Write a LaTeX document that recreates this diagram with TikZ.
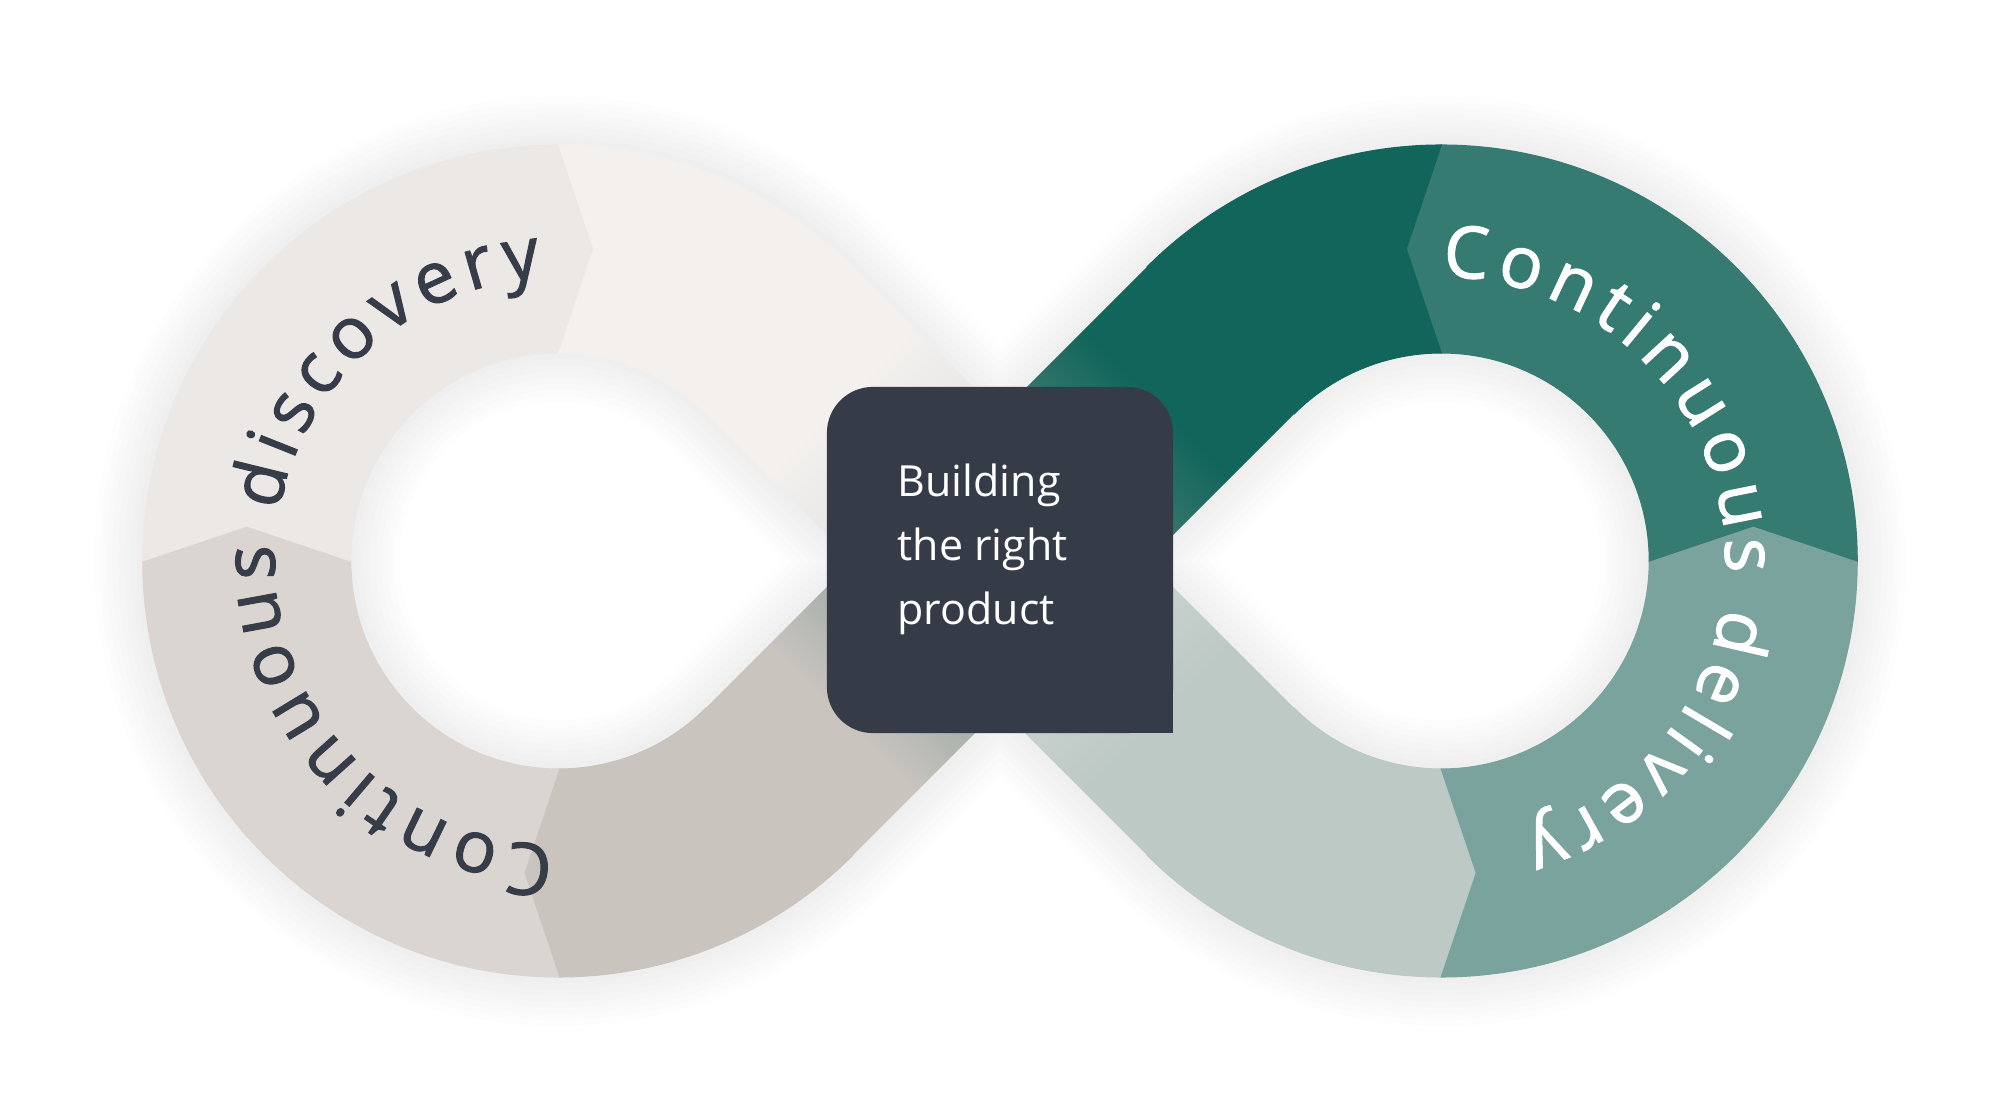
\documentclass[tikz,border=0pt]{standalone}
\usepackage{fontspec}
\setmainfont{Open Sans}
\newfontfamily\ringfam{Open Sans}[FakeBold=1.4]
\usetikzlibrary{calc,positioning,decorations.text}

\definecolor{ltlcol}{HTML}{ECE8E5}
\definecolor{ltrcol}{HTML}{F3F0EE}
\definecolor{lblcol}{HTML}{DAD5D0}
\definecolor{lbrcol}{HTML}{CAC4BF}
\definecolor{rtlcol}{HTML}{11655B}
\definecolor{rtrcol}{HTML}{357B71}
\definecolor{rbrcol}{HTML}{79A39C}
\definecolor{rblcol}{HTML}{BDC9C5}
\definecolor{midone}{HTML}{D9DCDA}
\definecolor{midtwo}{HTML}{6E9088}
\definecolor{boxcol}{HTML}{363C47}
\definecolor{inkcol}{HTML}{373D48}

\pgfdeclarehorizontalshading{bandone}{100bp}{color(0bp)=(ltrcol); color(31bp)=(ltrcol); color(50bp)=(midone); color(69bp)=(rblcol); color(100bp)=(rblcol)}
\pgfdeclarehorizontalshading{bandtwo}{100bp}{color(0bp)=(lbrcol); color(31bp)=(lbrcol); color(50bp)=(midtwo); color(69bp)=(rtlcol); color(100bp)=(rtlcol)}

\newcommand\ringfont{\ringfam\fontsize{20.5}{24}\selectfont}
\newcommand\Ro{416}
\newcommand\Ri{208}
\newcommand\Rtip{314}
\newcommand\Rb{284}

\begin{document}
\begin{tikzpicture}[x=0.01cm, y=0.01cm,
  seg/.style={fill=#1, draw=#1, line width=0.3pt},
  halo/.style={draw=black!70, draw opacity=0.009, line join=round},
  prodbox/.style={fill=boxcol, rounded corners=0.46cm, minimum width=3.46cm,
    minimum height=3.46cm, inner sep=0pt, outer sep=0pt},
  prodtext/.style={text=white, font=\fontsize{12.2}{18.2}\selectfont, align=left,
    inner sep=0pt}]
%
\useasboundingbox (0,0) rectangle (2000,1118);
\fill[white] (0,0) rectangle (2000,1118);
%
\coordinate (X) at (1000,557);
\coordinate (LC) at (558.77,557);
\coordinate (RC) at (1441.23,557);
\coordinate (XT) at (1000,704.08);
\coordinate (XB) at (1000,409.92);
\coordinate (HL) at (852.92,557);
\coordinate (HR) at (1147.08,557);
%
% soft shadow round the loop and in the holes
\begin{scope}[yshift=-0.12cm]
\foreach \k in {1,...,8}
  \draw[halo, line width=\k*3.5pt]
    ($(LC)+(45:\Ro)$) arc[start angle=45, end angle=315, radius=\Ro] -- (XB)
    -- ($(RC)+(225:\Ro)$) arc[start angle=225, end angle=495, radius=\Ro] -- (XT) -- cycle
    ($(LC)+(45:\Ri)$) arc[start angle=45, end angle=315, radius=\Ri] -- (HL) -- cycle
    ($(RC)+(225:\Ri)$) arc[start angle=225, end angle=495, radius=\Ri] -- (HR) -- cycle;
\end{scope}
%
% crossing bands
\shade[shading=bandtwo, shading angle=45]
  ($(LC)+(315:\Ro)+(225:4)$) -- ($(RC)+(135:\Ri)+(45:4)$)
  -- ($(RC)+(135:\Ro)+(45:4)$) -- ($(LC)+(315:\Ri)+(225:4)$) -- cycle;
\shade[shading=bandone, shading angle=-45]
  ($(LC)+(45:\Ro)+(135:4)$) -- ($(RC)+(225:\Ri)+(-45:4)$)
  -- ($(RC)+(225:\Ro)+(-45:4)$) -- ($(LC)+(45:\Ri)+(135:4)$) -- cycle;
%
% left loop
\filldraw[seg=lbrcol] ($(LC)+(315:\Ro)$) arc[start angle=315, end angle=270, radius=\Ro]
  -- ($(LC)+(263.6:\Rtip)$) -- ($(LC)+(270:\Ri)$) arc[start angle=270, end angle=315, radius=\Ri] -- cycle;
\foreach \a/\b/\c in {270/180/lblcol, 180/90/ltlcol}
  \filldraw[seg=\c] ($(LC)+(\a:\Ro)$) arc[start angle=\a, end angle=\b, radius=\Ro]
    -- ($(LC)+(\b-6.4:\Rtip)$) -- ($(LC)+(\b:\Ri)$) arc[start angle=\b, end angle=\a, radius=\Ri]
    -- ($(LC)+(\a-6.4:\Rtip)$) -- cycle;
\filldraw[seg=ltrcol] ($(LC)+(90:\Ro)$) arc[start angle=90, end angle=45, radius=\Ro]
  -- ($(LC)+(45:\Ri)$) arc[start angle=45, end angle=90, radius=\Ri] -- ($(LC)+(83.6:\Rtip)$) -- cycle;
%
% right loop
\filldraw[seg=rblcol] ($(RC)+(225:\Ro)$) arc[start angle=225, end angle=270, radius=\Ro]
  -- ($(RC)+(276.4:\Rtip)$) -- ($(RC)+(270:\Ri)$) arc[start angle=270, end angle=225, radius=\Ri] -- cycle;
\foreach \a/\b/\c in {270/360/rbrcol, 0/90/rtrcol}
  \filldraw[seg=\c] ($(RC)+(\a:\Ro)$) arc[start angle=\a, end angle=\b, radius=\Ro]
    -- ($(RC)+(\b+6.4:\Rtip)$) -- ($(RC)+(\b:\Ri)$) arc[start angle=\b, end angle=\a, radius=\Ri]
    -- ($(RC)+(\a+6.4:\Rtip)$) -- cycle;
\filldraw[seg=rtlcol] ($(RC)+(90:\Ro)$) arc[start angle=90, end angle=135, radius=\Ro]
  -- ($(RC)+(135:\Ri)$) arc[start angle=135, end angle=90, radius=\Ri] -- ($(RC)+(96.4:\Rtip)$) -- cycle;
%
% labels on the loops
\path[decorate, decoration={text along path, text align=center,
    text={|\ringfont\color{inkcol}\kern2.2pt|Continuous discovery}}]
  ($(LC)+(272:\Rb)$) arc[start angle=272, end angle=92, radius=\Rb];
\path[decorate, decoration={text along path, text align=center,
    text={|\ringfont\color{white}\kern2.2pt|Continuous delivery}}]
  ($(RC)+(99:\Rb)$) arc[start angle=99, end angle=-81, radius=\Rb];
%
% centre box
\node[prodbox] (prod) at (1000,558) {};
\fill[boxcol] (prod.center) rectangle (prod.south east);
\node[prodtext, below right=0.76cm and 0.70cm of prod.north west] (prodlabel)
  {Building\\the right\\product};
%
\end{tikzpicture}
\end{document}
